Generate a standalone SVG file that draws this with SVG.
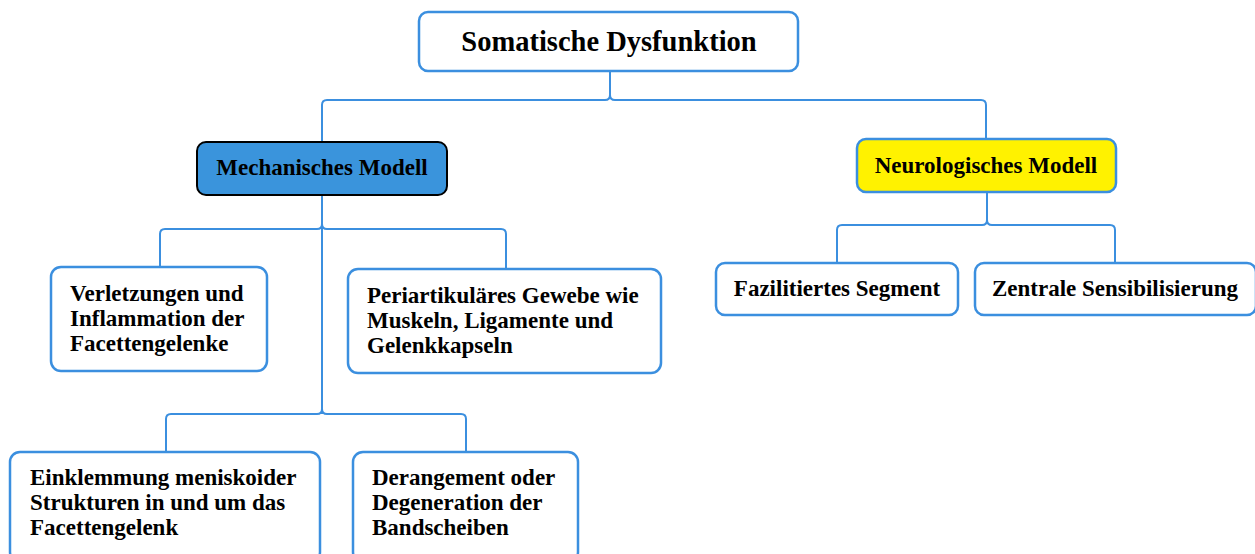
<svg xmlns="http://www.w3.org/2000/svg" width="1255" height="554" viewBox="0 0 1255 554">
<style>
.box{fill:#fff;stroke:#3b8fdf;stroke-width:2.5}
.con{fill:none;stroke:#3b8fdf;stroke-width:2}
text{font-family:"Liberation Serif","Times New Roman",serif;font-weight:bold;fill:#000}
.t{font-size:23px}
.c{text-anchor:middle}
</style>
<rect width="1255" height="554" fill="#fff"/>
<g id="connectors">
<path class="con" d="M610,71 V95 Q610,100 605,100 H327 Q322,100 322,105 V142"/>
<path class="con" d="M610,71 V95 Q610,100 615,100 H981 Q986,100 986,105 V139"/>
<path class="con" d="M322,195 V414"/>
<path class="con" d="M322,195 V224 Q322,229 317,229 H165 Q160,229 160,234 V268"/>
<path class="con" d="M322,195 V224 Q322,229 327,229 H501 Q506,229 506,234 V269"/>
<path class="con" d="M322,260 V409 Q322,414 317,414 H171 Q166,414 166,419 V452"/>
<path class="con" d="M322,260 V409 Q322,414 327,414 H461 Q466,414 466,419 V452"/>
<path class="con" d="M987,192 V220 Q987,225 982,225 H842 Q837,225 837,230 V263"/>
<path class="con" d="M987,192 V220 Q987,225 992,225 H1110 Q1115,225 1115,230 V263"/>
</g>
<g id="root">
<rect class="box" x="419" y="12" width="379" height="59" rx="9"/>
<text class="c" x="609" y="51" font-size="28.5">Somatische Dysfunktion</text>
</g>
<g id="mech">
<rect x="197" y="142" width="250" height="53" rx="9" fill="#3a94dc" stroke="#000" stroke-width="2"/>
<text class="t c" x="322" y="175">Mechanisches Modell</text>
</g>
<g id="neuro">
<rect x="857" y="139" width="259" height="53" rx="9" fill="#fff200" stroke="#3b8fdf" stroke-width="2.5"/>
<text class="t c" x="986" y="173">Neurologisches Modell</text>
</g>
<g id="verletzungen">
<rect class="box" x="51" y="267" width="216" height="104" rx="10"/>
<text class="t" x="70" y="301">Verletzungen und</text>
<text class="t" x="70" y="326">Inflammation der</text>
<text class="t" x="70" y="351">Facettengelenke</text>
</g>
<g id="periartikulaer">
<rect class="box" x="348" y="269" width="313" height="104" rx="10"/>
<text class="t" x="367" y="303">Periartikuläres Gewebe wie</text>
<text class="t" x="367" y="328">Muskeln, Ligamente und</text>
<text class="t" x="367" y="353">Gelenkkapseln</text>
</g>
<g id="einklemmung">
<rect class="box" x="10" y="452" width="310" height="110" rx="10"/>
<text class="t" x="30" y="485">Einklemmung meniskoider</text>
<text class="t" x="30" y="510">Strukturen in und um das</text>
<text class="t" x="30" y="535">Facettengelenk</text>
</g>
<g id="derangement">
<rect class="box" x="353" y="452" width="225" height="110" rx="10"/>
<text class="t" x="372" y="485">Derangement oder</text>
<text class="t" x="372" y="510">Degeneration der</text>
<text class="t" x="372" y="535">Bandscheiben</text>
</g>
<g id="fazilitiert">
<rect class="box" x="716" y="263" width="242" height="52" rx="9"/>
<text class="t c" x="837" y="296">Fazilitiertes Segment</text>
</g>
<g id="zentral">
<rect class="box" x="975" y="263" width="281" height="52" rx="9"/>
<text class="t c" x="1115" y="296">Zentrale Sensibilisierung</text>
</g>
</svg>
